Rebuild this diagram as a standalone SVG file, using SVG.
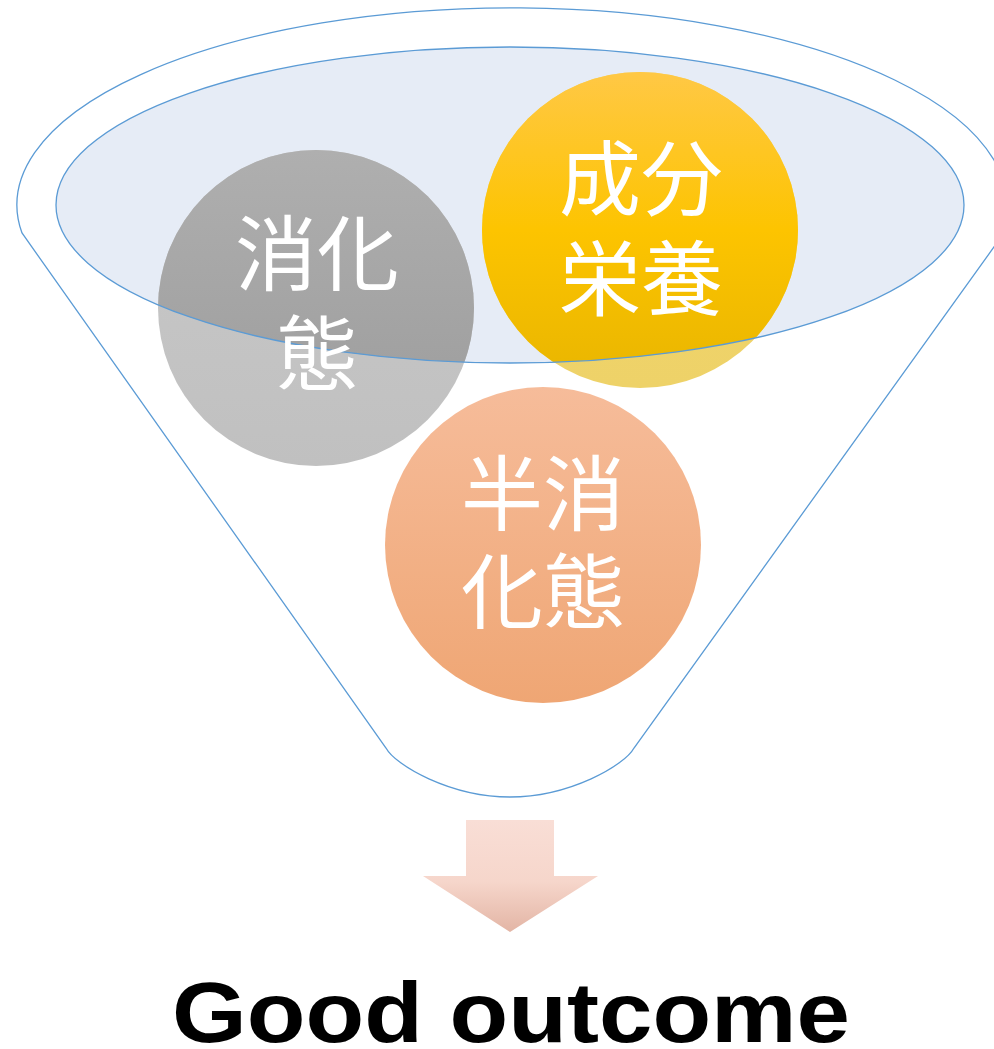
<svg xmlns="http://www.w3.org/2000/svg" width="994" height="1049" viewBox="0 0 994 1049">
  <defs>
    <style>
      .line{fill:none;stroke:#5b9bd5;stroke-width:1.3}
      .cjk{font-family:"Noto Sans CJK JP","Noto Sans CJK SC",sans-serif;font-size:82px;fill:#ffffff;text-anchor:middle}
      .title{font-family:"Liberation Sans",Arial,sans-serif;font-weight:bold;font-size:86px;fill:#000000}
    </style>
    <clipPath id="inner"><ellipse cx="510" cy="205" rx="454" ry="158"/></clipPath>
    <linearGradient id="gGrayIn" x1="0" y1="0" x2="0" y2="1"><stop offset="0" stop-color="#afafaf"/><stop offset="1" stop-color="#9a9a9a"/></linearGradient>
    <linearGradient id="gGrayOut" x1="0" y1="0" x2="0" y2="1"><stop offset="0" stop-color="#c9c9c9"/><stop offset="1" stop-color="#c0c0c0"/></linearGradient>
    <linearGradient id="gYelIn" x1="0" y1="0" x2="0" y2="1"><stop offset="0" stop-color="#ffc845"/><stop offset="0.5" stop-color="#fdc400"/><stop offset="1" stop-color="#e8b500"/></linearGradient>
    <linearGradient id="gYelOut" x1="0" y1="0" x2="0" y2="1"><stop offset="0" stop-color="#f2d670"/><stop offset="1" stop-color="#eed268"/></linearGradient>
    <linearGradient id="gOrange" x1="0" y1="0" x2="0" y2="1"><stop offset="0" stop-color="#f6bc9a"/><stop offset="1" stop-color="#efa674"/></linearGradient>
    <linearGradient id="gArrow" x1="0" y1="0" x2="0" y2="1"><stop offset="0" stop-color="#f9ded6"/><stop offset="0.55" stop-color="#f6d6cb"/><stop offset="1" stop-color="#e3b5a5"/></linearGradient>
  </defs>

  <g id="funnel">
    <path class="line" d="M 22,233 A 495 197 0 1 1 999,240 L 634,748 C 625,765 570,797 510,797 C 450,797 395,765 386,748 Z" style="fill:#ffffff"/>
    <ellipse cx="510" cy="205" rx="454" ry="158" fill="#e6ecf6" stroke="none"/>
  </g>

  <g id="node-digested">
    <circle cx="316" cy="308" r="158" fill="url(#gGrayOut)"/>
    <circle cx="316" cy="308" r="158" fill="url(#gGrayIn)" clip-path="url(#inner)"/>
  </g>
  <g id="node-nutrition">
    <circle cx="640" cy="230" r="158" fill="url(#gYelOut)"/>
    <circle cx="640" cy="230" r="158" fill="url(#gYelIn)" clip-path="url(#inner)"/>
  </g>
  <g id="node-semidigested">
    <circle cx="543" cy="545" r="158" fill="url(#gOrange)"/>
  </g>

  <g id="funnel-rim">
    <ellipse class="line" cx="510" cy="205" rx="454" ry="158"/>
  </g>

  <g id="labels">
    <text class="cjk" x="317" y="284">消化<tspan x="317" y="384">態</tspan></text>
    <text class="cjk" x="641" y="209">成分<tspan x="641" y="309">栄養</tspan></text>
    <text class="cjk" x="543" y="524">半消<tspan x="543" y="622">化態</tspan></text>
  </g>

  <g id="connectors">
    <path d="M 466,820 L 554,820 L 554,876 L 598,876 L 510,932 L 423,876 L 466,876 Z" fill="url(#gArrow)"/>
  </g>

  <g id="node-outcome">
    <text class="title" x="172" y="1042" textLength="678" lengthAdjust="spacingAndGlyphs">Good outcome</text>
  </g>
</svg>
